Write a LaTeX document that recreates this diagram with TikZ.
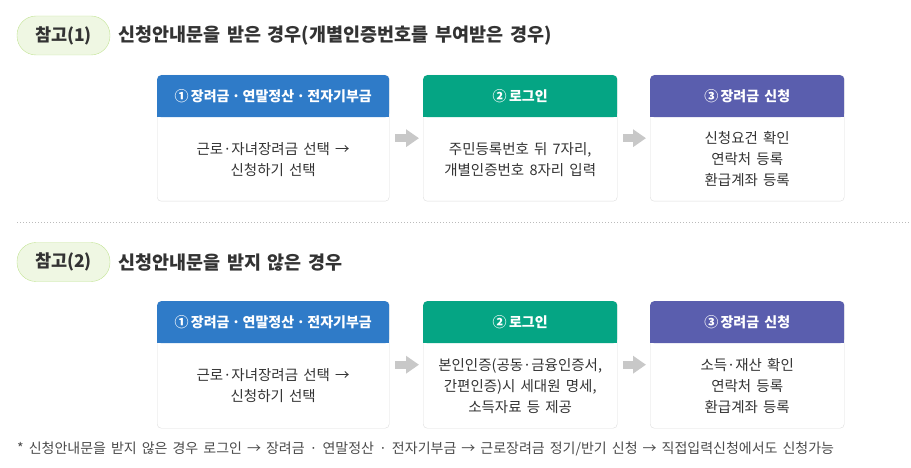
\documentclass[tikz,border=0pt]{standalone}
\usepackage{fontspec}
\setmainfont{Noto Sans CJK KR}[WordSpace=1.6]
\usetikzlibrary{arrows.meta,calc}
\definecolor{hblue}{HTML}{2F7BC8}
\definecolor{hgreen}{HTML}{05A584}
\definecolor{hpurple}{HTML}{5A5EAE}
\definecolor{pillfill}{HTML}{EFF7E3}
\definecolor{pillline}{HTML}{C3E495}
\definecolor{txt}{HTML}{333333}
\definecolor{note}{HTML}{4A4A4A}
\definecolor{cardline}{HTML}{DDDDDD}
\definecolor{arrgray}{HTML}{C8C8C8}
\definecolor{sepgray}{HTML}{BBBBBB}

\begin{document}
\begin{tikzpicture}[x=1pt,y=-1pt,
  pill/.style={draw=pillline, fill=pillfill, rounded corners=19pt, minimum width=93pt, minimum height=39pt, inner sep=0pt, text=txt, font=\fontsize{17.5}{17.5}\selectfont\bfseries},
  title/.style={anchor=west, inner sep=0pt, text=txt, font=\fontsize{18.5}{19}\selectfont\bfseries},
  card/.style={draw=cardline, fill=white, rounded corners=4pt, inner sep=0pt, anchor=north west},
  head/.style={rounded corners=4pt, minimum height=42pt, inner sep=0pt, anchor=north, text=white, font=\fontsize{14}{14}\selectfont\bfseries},
  body/.style={align=center, text=txt, inner sep=0pt, font=\fontsize{14.5}{21}\selectfont},
  flow/.style={draw=arrgray, line width=8pt, -{Triangle[length=13pt,width=17pt]}, shorten <=6pt, shorten >=4pt}]
\useasboundingbox (0,0) rectangle (911,468);

% reference 1
\node[pill] (p1) at (63.5,35.5) {참고(1)};
\node[title] (ttl1) at (118,36) {신청안내문을 받은 경우(개별인증번호를 부여받은 경우)};

\node[card, minimum width=232pt, minimum height=126pt] (c1) at (157,75) {};
\node[card, minimum width=194pt, minimum height=126pt] (c2) at (423,75) {};
\node[card, minimum width=194pt, minimum height=126pt] (c3) at (650,75) {};
\node[head, fill=hblue, minimum width=232pt] (h1) at (c1.north) {①\,장려금\,·\,연말정산\,·\,전자기부금};
\node[head, fill=hgreen, minimum width=194pt] (h2) at (c2.north) {②\,로그인};
\node[head, fill=hpurple, minimum width=194pt] (h3) at (c3.north) {③\,장려금 신청};
\fill[hblue] ([yshift=5pt]h1.south west) rectangle (h1.south east);
\fill[hgreen] ([yshift=5pt]h2.south west) rectangle (h2.south east);
\fill[hpurple] ([yshift=5pt]h3.south west) rectangle (h3.south east);
\node[body] (t1) at ($(h1.south)!.5!(c1.south)$) {근로·자녀장려금 선택 →\\신청하기 선택};
\node[body] (t2) at ($(h2.south)!.5!(c2.south)$) {주민등록번호 뒤 7자리,\\개별인증번호 8자리 입력};
\node[body] (t3) at ($(h3.south)!.5!(c3.south)$) {신청요건 확인\\연락처 등록\\환급계좌 등록};
\draw[flow] (c1) -- (c2);
\draw[flow] (c2) -- (c3);

\draw[sepgray, dash pattern=on 1pt off 2pt] (17,222) -- (911,222);

% reference 2
\node[pill] (p2) at (63.5,262) {참고(2)};
\node[title] (ttl2) at (118,263) {신청안내문을 받지 않은 경우};

\node[card, minimum width=232pt, minimum height=127pt] (c4) at (157,301) {};
\node[card, minimum width=194pt, minimum height=127pt] (c5) at (423,301) {};
\node[card, minimum width=194pt, minimum height=127pt] (c6) at (650,301) {};
\node[head, fill=hblue, minimum width=232pt] (h4) at (c4.north) {①\,장려금\,·\,연말정산\,·\,전자기부금};
\node[head, fill=hgreen, minimum width=194pt] (h5) at (c5.north) {②\,로그인};
\node[head, fill=hpurple, minimum width=194pt] (h6) at (c6.north) {③\,장려금 신청};
\fill[hblue] ([yshift=5pt]h4.south west) rectangle (h4.south east);
\fill[hgreen] ([yshift=5pt]h5.south west) rectangle (h5.south east);
\fill[hpurple] ([yshift=5pt]h6.south west) rectangle (h6.south east);
\node[body] (t4) at ($(h4.south)!.5!(c4.south)$) {근로·자녀장려금 선택 →\\신청하기 선택};
\node[body] (t5) at ($(h5.south)!.5!(c5.south)$) {본인인증(공동·금융인증서,\\간편인증)시 세대원 명세,\\소득자료 등 제공};
\node[body] (t6) at ($(h6.south)!.5!(c6.south)$) {소득·재산 확인\\연락처 등록\\환급계좌 등록};
\draw[flow] (c4) -- (c5);
\draw[flow] (c5) -- (c6);

\node[anchor=west, inner sep=0pt, text=note, font=\fontsize{14}{14}\selectfont] (fn) at (17,449) {* 신청안내문을 받지 않은 경우 로그인 → 장려금 · 연말정산 · 전자기부금 → 근로장려금 정기/반기 신청 → 직접입력신청에서도 신청가능};
\end{tikzpicture}
\end{document}
